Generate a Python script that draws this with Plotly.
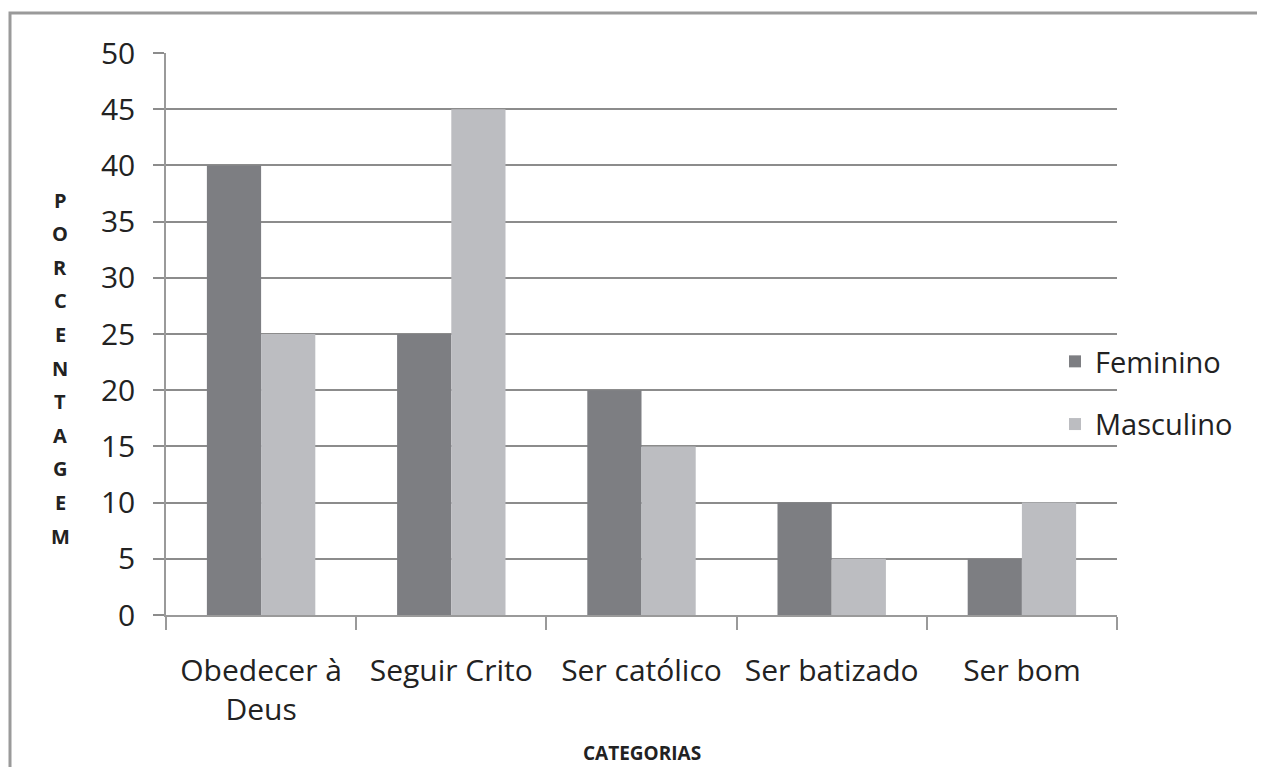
import plotly.graph_objects as go

categories = ["Obedecer à<br>Deus", "Seguir Crito", "Ser católico", "Ser batizado", "Ser bom"]
feminino = [40, 25, 20, 10, 5]
masculino = [25, 45, 15, 5, 10]
y_ticks = [0, 5, 10, 15, 20, 25, 30, 35, 40, 45, 50]
y_title_letters = list("PORCENTAGEM")
x_title = "CATEGORIAS"

OFF = 8  # page body margin
W, H = 1265 - OFF, 767 - OFF
L, R, T, B = 166 - OFF, 1117 - OFF, 53 - OFF, 615 - OFF
pw, ph = R - L, B - T

def px(x):
    return (x - OFF - L) / pw

def py(y):
    return (B - (y - OFF)) / ph

font = "'Open Sans', sans-serif"

fig = go.Figure()
fig.add_trace(go.Bar(name="Feminino", x=categories, y=feminino, legendgroup="f",
                     marker=dict(color="#7d7e82", line_width=0)))
fig.add_trace(go.Bar(name="Masculino", x=categories, y=masculino, legendgroup="m",
                     marker=dict(color="#bcbdc1", line_width=0)))

fig.update_layout(
    width=W, height=H,
    margin=dict(l=L, r=W - R, t=T, b=H - B, pad=0),
    paper_bgcolor="white", plot_bgcolor="white",
    barmode="group", bargap=0.43, bargroupgap=0,
    font=dict(family=font, color="#222222"),
    showlegend=True,
    legend=dict(x=px(1055), y=py(336), xanchor="left", yanchor="top",
                font=dict(size=29, family=font), itemsizing="constant",
                tracegroupgap=22, bgcolor="rgba(0,0,0,0)"),
    xaxis=dict(type="category", tickson="boundaries", ticks="outside", ticklen=13,
               tickcolor="#9a9a9a", tickwidth=1.5, showline=True, linecolor="#9a9a9a",
               linewidth=1.5, showgrid=False, tickfont=dict(size=30, family=font),
               ticklabelstandoff=28),
    yaxis=dict(range=[0, 50], tickvals=y_ticks, ticks="outside", ticklen=11,
               tickcolor="#8c8c8c", tickwidth=1.5, showgrid=True, gridcolor="#8c8c8c",
               gridwidth=1.5, showline=True, linecolor="#9a9a9a", linewidth=1.5,
               zeroline=False, tickfont=dict(size=30, family=font), ticklabelstandoff=12),
)

for i, letter in enumerate(y_title_letters):
    fig.add_annotation(text="<b>" + letter + "</b>", xref="paper", yref="paper",
                       x=px(60), y=py(200 + i * 33.6), xanchor="center", yanchor="middle",
                       showarrow=False, font=dict(size=20, family=font, color="#222222"))

fig.add_annotation(text="<b>" + x_title + "</b>", xref="paper", yref="paper",
                   x=px(642), y=py(753), xanchor="center", yanchor="middle",
                   showarrow=False, font=dict(size=19, family=font, color="#222222"))

fig.add_shape(type="rect", xref="paper", yref="paper",
              x0=px(10), x1=px(1290), y0=py(13), y1=py(800),
              line=dict(color="#9a9a9a", width=3), layer="below")

fig.write_html("out.html")
